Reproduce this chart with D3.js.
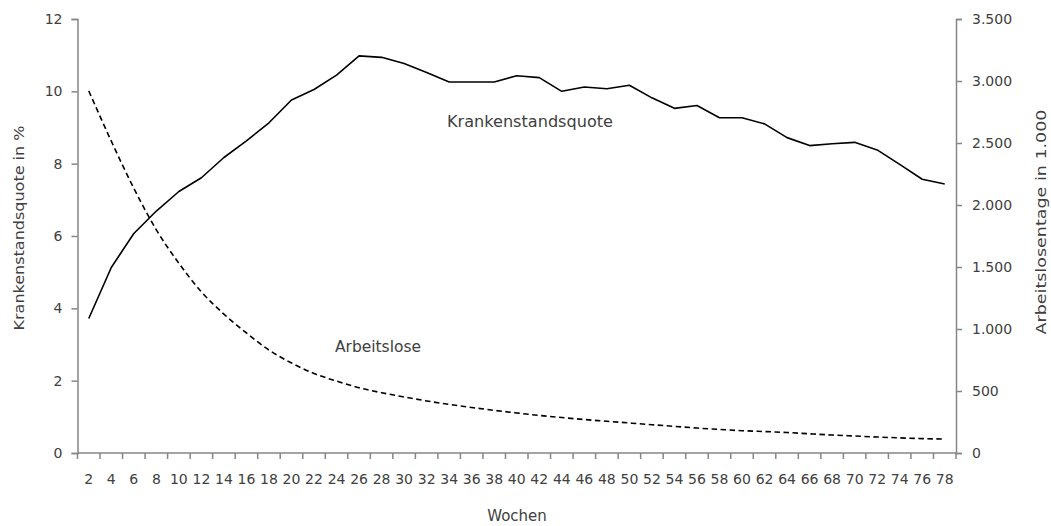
<!DOCTYPE html>
<html>
<head>
<meta charset="utf-8">
<script src="https://cdn.jsdelivr.net/npm/d3@7"></script>
<style>
  html, body { margin: 0; padding: 0; background: #ffffff; }
  svg { display: block; }
  text { font-family: "DejaVu Sans", sans-serif; fill: #404040; }
</style>
</head>
<body>
<svg id="chart" width="1051" height="526"></svg>
<script>
// Weeks since start of unemployment
const weeks = [2, 4, 6, 8, 10, 12, 14, 16, 18, 20, 22, 24, 26, 28, 30, 32, 34, 36, 38, 40,
               42, 44, 46, 48, 50, 52, 54, 56, 58, 60, 62, 64, 66, 68, 70, 72, 74, 76, 78];

// Sick-leave rate (%), left axis
const krankenstandsquote = [3.72, 5.13, 6.07, 6.69, 7.23, 7.61, 8.17, 8.63, 9.13, 9.76,
                            10.05, 10.45, 10.98, 10.94, 10.77, 10.52, 10.26, 10.26, 10.26, 10.43,
                            10.38, 10.0, 10.12, 10.07, 10.17, 9.82, 9.53, 9.61, 9.27, 9.27,
                            9.1, 8.72, 8.5, 8.55, 8.59, 8.38, 7.98, 7.57, 7.44];

// Days of unemployment (in 1,000), right axis
const arbeitslosentage = [2920, 2515, 2135, 1800, 1530, 1300, 1120, 968, 830, 726,
                          641, 580, 526, 486, 452, 420, 392, 367, 344, 323,
                          303, 286, 270, 256, 242, 228, 215, 201, 190, 180,
                          173, 165, 155, 145, 137, 129, 122, 116, 113];

const leftTicks = [0, 2, 4, 6, 8, 10, 12];
const rightTicks = [0, 500, 1000, 1500, 2000, 2500, 3000, 3500];

const svg = d3.select("#chart");
const m = { left: 77.5, right: 956, top: 19, bottom: 453 };
const axisColor = "#868686";

const de = d3.formatLocale({ decimal: ",", thousands: ".", grouping: [3], currency: ["", " €"] });
const fmt = de.format(",d");

const x = d3.scaleBand().domain(weeks).range([m.left, m.right]).padding(0);
const yL = d3.scaleLinear().domain([0, 12]).range([m.bottom, m.top]);
const yR = d3.scaleLinear().domain([0, 3500]).range([m.bottom, m.top]);
const half = x.bandwidth() / 2;

// Left axis
const gL = svg.append("g").attr("transform", `translate(${m.left},0)`)
  .call(d3.axisLeft(yL).tickValues(leftTicks).tickSize(6).tickPadding(9));
// Right axis
const gR = svg.append("g").attr("transform", `translate(${m.right},0)`)
  .call(d3.axisRight(yR).tickValues(rightTicks).tickFormat(fmt).tickSize(6).tickPadding(10));
// Bottom axis: labels centred in each band, tick marks on band boundaries
const gB = svg.append("g").attr("transform", `translate(0,${m.bottom})`)
  .call(d3.axisBottom(x).tickSize(0).tickPadding(21));
gB.selectAll(".tick").append("line")
  .attr("x1", -half).attr("x2", -half)
  .attr("y1", 0).attr("y2", 6);
gB.append("line")
  .attr("x1", m.right).attr("x2", m.right).attr("y1", 0).attr("y2", 6);

[gL, gR, gB].forEach(g => {
  g.select(".domain").attr("stroke", axisColor).attr("stroke-width", 1.5);
  g.selectAll("line").attr("stroke", axisColor).attr("stroke-width", 1.5);
  g.selectAll("text").attr("font-size", 14).attr("fill", "#404040")
    .attr("font-family", "DejaVu Sans, sans-serif");
});
gB.select(".domain").attr("d", `M${m.left},0H${m.right}`);

const cx = w => x(w) + half;

// Sick-leave rate: solid line
svg.append("path")
  .datum(weeks.map((w, i) => [w, krankenstandsquote[i]]))
  .attr("fill", "none").attr("stroke", "#000").attr("stroke-width", 1.6)
  .attr("stroke-linejoin", "round")
  .attr("d", d3.line().x(d => cx(d[0])).y(d => yL(d[1])));

// Unemployment days: dashed line
svg.append("path")
  .datum(weeks.map((w, i) => [w, arbeitslosentage[i]]))
  .attr("fill", "none").attr("stroke", "#000").attr("stroke-width", 1.6)
  .attr("stroke-dasharray", "5.5,3.5")
  .attr("d", d3.line().curve(d3.curveMonotoneX).x(d => cx(d[0])).y(d => yR(d[1])));

// Series labels
svg.append("text").attr("x", 447).attr("y", 127).attr("font-size", 15)
  .attr("textLength", 166).attr("lengthAdjust", "spacingAndGlyphs")
  .text("Krankenstandsquote");
svg.append("text").attr("x", 335).attr("y", 352).attr("font-size", 15)
  .attr("textLength", 86).attr("lengthAdjust", "spacingAndGlyphs")
  .text("Arbeitslose");

// Axis titles
svg.append("text").attr("x", 517).attr("y", 521).attr("text-anchor", "middle")
  .attr("font-size", 15).text("Wochen");
svg.append("text").attr("transform", "translate(24,228) rotate(-90)")
  .attr("text-anchor", "middle").attr("font-size", 14.5)
  .attr("textLength", 205).attr("lengthAdjust", "spacingAndGlyphs")
  .text("Krankenstandsquote in %");
svg.append("text").attr("transform", "translate(1046,222) rotate(-90)")
  .attr("text-anchor", "middle").attr("font-size", 14.5)
  .attr("textLength", 225).attr("lengthAdjust", "spacingAndGlyphs")
  .text("Arbeitslosentage in 1.000");
</script>
</body>
</html>
